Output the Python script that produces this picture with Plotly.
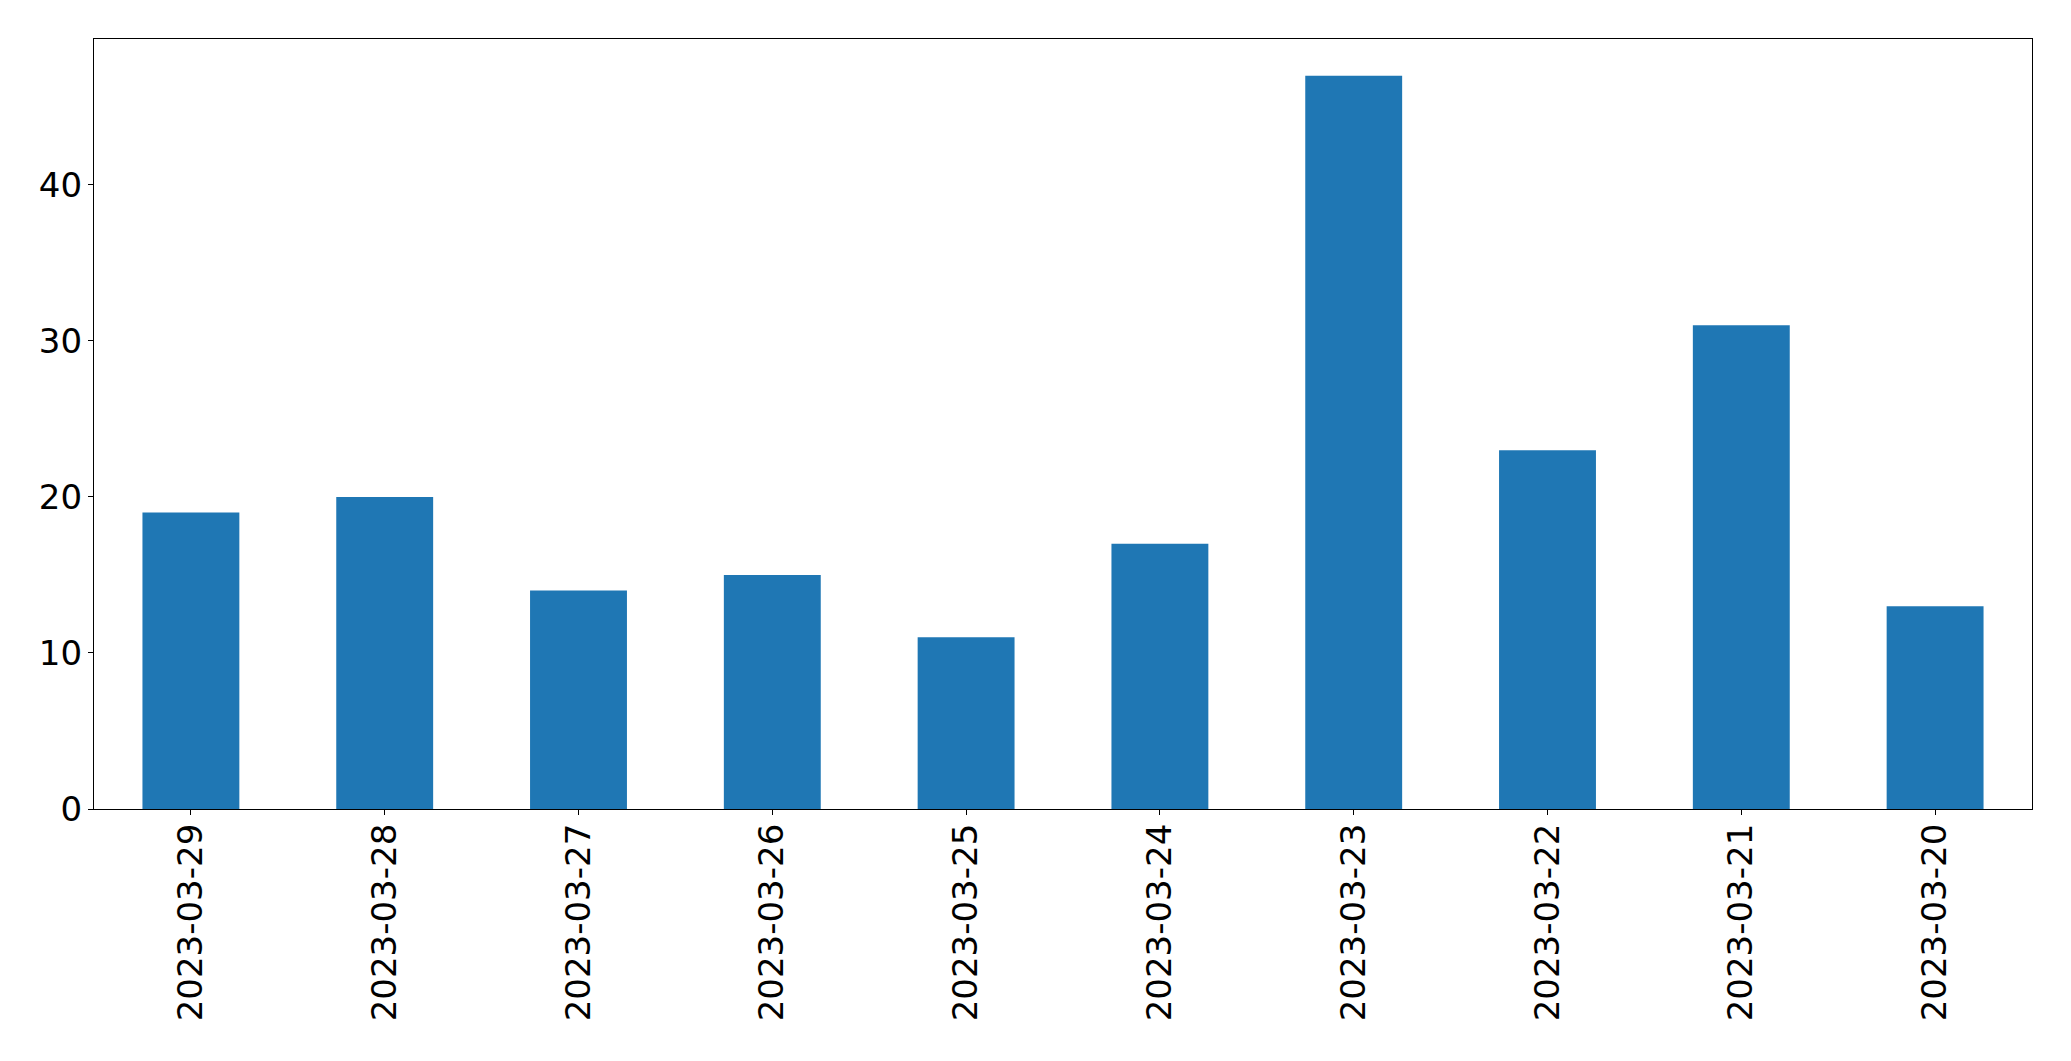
import plotly.graph_objects as go

dates = ["2023-03-29", "2023-03-28", "2023-03-27", "2023-03-26", "2023-03-25",
         "2023-03-24", "2023-03-23", "2023-03-22", "2023-03-21", "2023-03-20"]
counts = [19, 20, 14, 15, 11, 17, 47, 23, 31, 13]
y_ticks = [0, 10, 20, 30, 40]

fig = go.Figure(go.Bar(x=dates, y=counts, marker_color="#1f77b4", marker_line_width=0, width=0.5))

fig.update_layout(
    width=2071, height=1061,
    margin=dict(l=94, r=39, t=39, b=252),
    plot_bgcolor="white", paper_bgcolor="white",
    font=dict(family="DejaVu Sans", size=34, color="black"),
    showlegend=False,
)
fig.update_xaxes(
    type="category", range=[-0.5, 9.5], tickangle=-90,
    showline=True, linecolor="black", linewidth=1.3, mirror=True,
    ticks="outside", ticklen=5, tickcolor="black", tickwidth=1.3,
    showgrid=False, ticklabelstandoff=-5,
)
fig.update_yaxes(
    range=[0, 49.35], tickvals=y_ticks,
    showline=True, linecolor="black", linewidth=1.3, mirror=True,
    ticks="outside", ticklen=5, tickcolor="black", tickwidth=1.3,
    showgrid=False, zeroline=False, ticklabelstandoff=-1,
)

fig.write_html("out.html")
